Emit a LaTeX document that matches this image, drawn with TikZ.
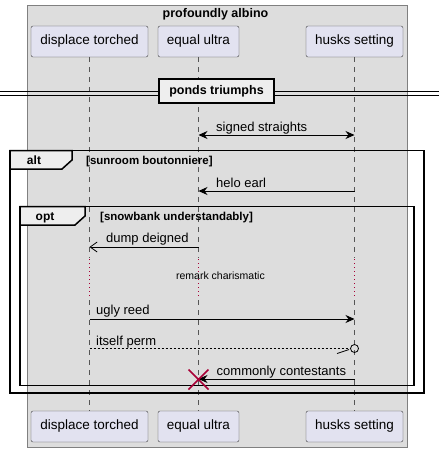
\documentclass[tikz,border=0pt]{standalone}
\usepackage{fontspec}
\setmainfont{Liberation Sans}
\usetikzlibrary{positioning, arrows.meta}

\definecolor{boxgrey}{HTML}{DDDDDD}
\definecolor{partfill}{HTML}{E2E2F0}
\definecolor{tabfill}{HTML}{EEEEEE}
\definecolor{lifegrey}{HTML}{555555}
\definecolor{crimson}{HTML}{A80036}

\begin{document}
\begin{tikzpicture}[x=1pt, y=-1pt,
  every node/.style={font=\fontsize{13}{15}\selectfont, inner sep=0pt},
  part/.style={draw=black!75, fill=partfill, rounded corners=2pt, minimum height=31pt, font=\fontsize{13.5}{15}\selectfont},
  lifeline/.style={draw=lifegrey, dash pattern=on 5pt off 5pt, line width=0.5pt},
  delay/.style={draw=crimson, dash pattern=on 1pt off 3pt, line width=1pt},
  msg/.style={line width=0.8pt, -{Stealth[length=9pt, width=8pt, inset=3pt]}},
  lbl/.style={anchor=base west},
  grouplbl/.style={font=\bfseries\fontsize{11.5}{13}\selectfont, anchor=base west},
  frame/.style={line width=1.5pt},
  tab/.style={frame, fill=tabfill},
]

\useasboundingbox (0,0) rectangle (439,452);

% Kasten
\draw[draw=gray, fill=boxgrey] (27,5.5) rectangle (407,447);
\node[font=\bfseries\fontsize{12.5}{14}\selectfont, anchor=base] (title) at (215.5,18) {profoundly albino};

% Teilnehmer oben und unten
\node[part, minimum width=117pt] (dt-top) at (89.5,41.5) {displace torched};
\node[part, minimum width=81pt] (eu-top) at (198.5,41.5) {equal ultra};
\node[part, minimum width=97pt] (hs-top) at (354.5,41.5) {husks setting};
\node[part, minimum width=117pt] (dt-bot) at (89.5,426.5) {displace torched};
\node[part, minimum width=81pt] (eu-bot) at (198.5,426.5) {equal ultra};
\node[part, minimum width=97pt] (hs-bot) at (354.5,426.5) {husks setting};

% Lebenslinien
\foreach \p in {dt,eu,hs}{
  \draw[lifeline] (\p-top.south) -- (\p-top.south |- 0,258);
  \draw[delay] (\p-top.south |- 0,259) -- (\p-top.south |- 0,297);
  \draw[lifeline] (\p-top.south |- 0,300) -- (\p-bot.north);
}

% Trenner
\draw (0,91) -- (439,91);
\draw (0,95) -- (439,95);
\node[draw, line width=1.5pt, fill=tabfill, minimum width=115pt, minimum height=24pt,
  font=\bfseries\fontsize{12.5}{14}\selectfont] (sep) at (216.5,91) {ponds triumphs};

% Nachrichten
\draw[line width=0.8pt, {Stealth[length=9pt, width=8pt, inset=3pt]}-{Stealth[length=9pt, width=8pt, inset=3pt]}]
  (eu-top.south |- 0,135) -- (hs-top.south |- 0,135);
\node[lbl] (m1) at (216,131) {signed straights};

% alt
\draw[frame] (10,150.5) rectangle (424,393);
\draw[tab] (10,150.5) -- (72,150.5) -- (72,160) -- (62,169) -- (10,169) -- cycle;
\node[grouplbl, anchor=base, font=\bfseries\fontsize{12}{14}\selectfont] (altname) at (34,164) {alt};
\node[grouplbl] (altcond) at (86,164) {[sunroom boutonniere]};

\draw[msg] (hs-top.south |- 0,191) -- (eu-top.south |- 0,191);
\node[lbl] (m2) at (216,187) {helo earl};

% opt
\draw[frame] (20,206.5) rectangle (414,385.5);
\draw[tab] (20,206.5) -- (85,206.5) -- (85,216) -- (75,225) -- (20,225) -- cycle;
\node[grouplbl, anchor=base, font=\bfseries\fontsize{12}{14}\selectfont] (optname) at (45,220.5) {opt};
\node[grouplbl] (optcond) at (100,220.5) {[snowbank understandably]};

\draw[line width=0.8pt, -{Straight Barb[length=7pt, width=10pt]}] (eu-top.south |- 0,247) -- (dt-top.south |- 0,247);
\node[lbl] (m3) at (106,242) {dump deigned};

\node[font=\fontsize{10.5}{12}\selectfont] (pause) at (220.5,276) {remark charismatic};

\draw[msg] (dt-top.south |- 0,319) -- (hs-top.south |- 0,319);
\node[lbl] (m4) at (96,314) {ugly reed};

\draw[line width=0.7pt, dash pattern=on 2pt off 2pt] (dt-top.south |- 0,348.5) -- (350,348.5);
\draw[line width=0.8pt] (354.5,348.5) circle (4pt);
\draw[line width=0.8pt] (337,353.5) -- (349,349.5);
\node[lbl] (m5) at (96,345) {itself perm};

\draw[msg] (hs-top.south |- 0,379) -- (eu-top.south |- 0,379);
\node[lbl] (m6) at (216.5,375) {commonly contestants};
\draw[crimson, line width=1.6pt] (188.5,369.5) -- (208.5,389.5) (188.5,389.5) -- (208.5,369.5);

\end{tikzpicture}
\end{document}
